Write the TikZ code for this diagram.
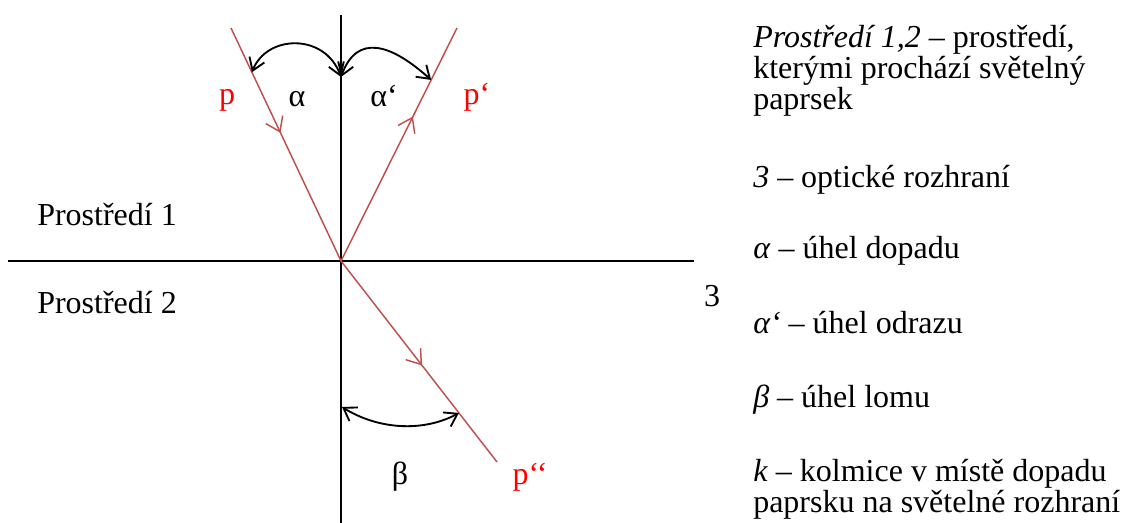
\documentclass[tikz,border=0pt]{standalone}
\usepackage{fontspec}
\setmainfont{Liberation Serif}
\usetikzlibrary{arrows.meta,decorations.markings,calc}
\definecolor{raycol}{RGB}{192,80,77}
\definecolor{lblcol}{RGB}{255,0,0}
\begin{document}
\begin{tikzpicture}[x=0.75pt,y=-0.75pt,
  every node/.style={font=\fontsize{24}{31}\selectfont, inner sep=0pt, anchor=base west},
  axis/.style={line width=1.3pt,black},
  raystyle/.style={line width=1.1pt,color=raycol},
  angarc/.style={line width=1.4pt,{Straight Barb[length=9pt,width=12pt]}-{Straight Barb[length=9pt,width=12pt]}},
  midarrow/.style={decoration={markings,mark=at position #1 with {\arrow{Straight Barb[length=10pt,width=14pt]}}},postaction={decorate}},
  redlbl/.style={text=lblcol}
]
\useasboundingbox (0,0) rectangle (1123,523);
% geometry
\coordinate (O) at (341,261);
\coordinate (kTop) at (341,15);
\coordinate (kBot) at (341,523);
\coordinate (hL) at (8,261);
\coordinate (hR) at (694,261);
\coordinate (pS) at (231,28);
\coordinate (pR) at (457,28);
\coordinate (pT) at (497,462);
\draw[axis] (kTop) -- (kBot);
\draw[axis] (hL) -- (hR);
\draw[raystyle,midarrow=0.45] (pS) -- (O);
\draw[raystyle,midarrow=0.62] (O) -- (pR);
\draw[raystyle,midarrow=0.52] (O) -- (pT);
% angle arcs
\coordinate (aL) at ($(pS)!0.19!(O)$);
\coordinate (aM) at (341,77);
\coordinate (aR) at ($(O)!0.777!(pR)$);
\coordinate (bL) at (342,407);
\coordinate (bR) at ($(O)!0.756!(pT)$);
\draw[angarc] (aL) .. controls +(15,-38) and +(-16,-44) .. (aM);
\draw[angarc] (aM) .. controls +(16,-44) and +(-40,-36) .. (aR);
\draw[angarc] (bL) .. controls +(37,23) and +(-35,19) .. (bR);
% labels in the figure
\node[redlbl,anchor=base] (lp) at (227,105) {p};
\node[anchor=base] (la) at (297,107) {α};
\node[anchor=base] (la2) at (384,107) {α‘};
\node[redlbl,anchor=base] (lp2) at (477,105) {p‘};
\node (m1) at (37,226) {Prostředí 1};
\node (m2) at (37,314) {Prostředí 2};
\node[anchor=base] (l3) at (712,307) {3};
\node[anchor=base] (lb) at (400,484) {β};
\node[redlbl,anchor=base] (lp3) at (530,484) {p‘‘};
% legend
\node (t1) at (753,48) {\textit{Prostředí 1,2} – prostředí,};
\node (t2) at (753,79) {kterými prochází světelný};
\node (t3) at (753,110) {paprsek};
\node (t4) at (753,188) {\textit{3} – optické rozhraní};
\node (t5) at (753,259) {\textit{α} – úhel dopadu};
\node (t6) at (753,334) {\textit{α‘} – úhel odrazu};
\node (t7) at (753,407) {\textit{β} – úhel lomu};
\node (t8) at (753,481) {\textit{k} – kolmice v místě dopadu};
\node (t9) at (753,512) {paprsku na světelné rozhraní};
\end{tikzpicture}
\end{document}
